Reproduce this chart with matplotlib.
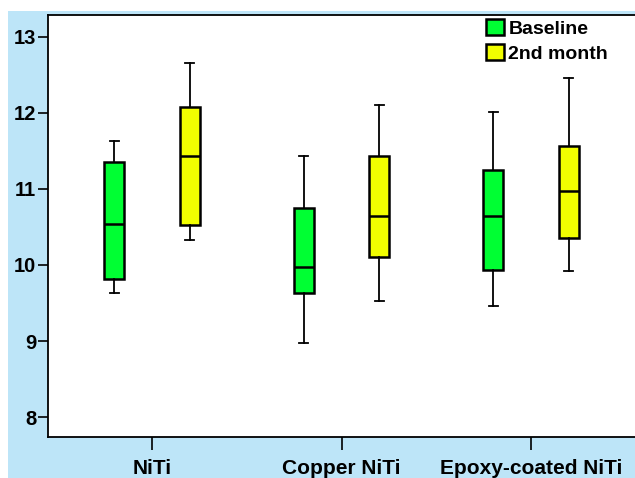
import numpy as np
import matplotlib.pyplot as plt
from matplotlib.patches import Patch, Rectangle

# === Data ===
groups = ["NiTi", "Copper NiTi", "Epoxy-coated NiTi"]
series = ["Baseline", "2nd month"]
colors = ["#00ff33", "#f2ff00"]

# per group: [lower whisker, Q1, median, Q3, upper whisker]
baseline = [
    [9.63, 9.81, 10.54, 11.36, 11.63],
    [8.98, 9.63, 9.98, 10.75, 11.43],
    [9.46, 9.93, 10.64, 11.25, 12.01],
]
month2 = [
    [10.33, 10.52, 11.43, 12.08, 12.66],
    [9.53, 10.11, 10.64, 11.43, 12.11],
    [9.92, 10.36, 10.98, 11.57, 12.46],
]

# === Figure ===
fig = plt.figure(figsize=(6.35, 4.78), dpi=100)
fig.patch.set_facecolor("white")
fig.patches.append(Rectangle((8 / 635, 0), 1, 1 - 11 / 478, transform=fig.transFigure,
                             facecolor="#bde5f8", edgecolor="none", zorder=-10))

ax = fig.add_axes([48 / 635, 41 / 478, 592 / 635, 422 / 478])
ax.set_facecolor("white")

pos = np.arange(1, len(groups) + 1)
offset = 0.2
width = 0.105

for vals, off, col in zip([baseline, month2], [-offset, offset], colors):
    stats = []
    for v in vals:
        stats.append(dict(whislo=v[0], q1=v[1], med=v[2], q3=v[3], whishi=v[4], fliers=[]))
    ax.bxp(stats, positions=pos + off, widths=width, patch_artist=True,
           showfliers=False, capwidths=width * 0.45,
           boxprops=dict(facecolor=col, edgecolor="black", linewidth=1.8),
           medianprops=dict(color="black", linewidth=1.8),
           whiskerprops=dict(color="black", linewidth=1.3),
           capprops=dict(color="black", linewidth=1.3))

ax.set_xlim(0.451, 3.549 + 5 / 189.5)
ax.set_ylim(7.737, 13.289)
ax.set_yticks([8, 9, 10, 11, 12, 13])
ax.set_xticks(pos)
ax.set_xticklabels(groups, fontsize=15, fontweight="bold", family="Liberation Sans")
for lab in ax.get_yticklabels():
    lab.set_fontsize(14.5)
    lab.set_fontweight("bold")
    lab.set_family("Liberation Sans")
ax.tick_params(axis="y", length=7, width=1.2, pad=1.5)
ax.tick_params(axis="x", length=9, width=1.2, pad=7)
for s in ["left", "bottom", "top"]:
    ax.spines[s].set_linewidth(1.3)
ax.spines["right"].set_visible(False)

handles = [Patch(facecolor=c, edgecolor="black", linewidth=1.8) for c in colors]
ax.legend(handles, series, loc="upper left", bbox_to_anchor=(438 / 592, 0.99),
          frameon=False, borderpad=0, borderaxespad=0, handlelength=0.9,
          handleheight=0.9, handletextpad=0.25, labelspacing=0.3,
          prop=dict(family="Liberation Sans", weight="bold", size=14))

fig.savefig("out.png", dpi=100)
